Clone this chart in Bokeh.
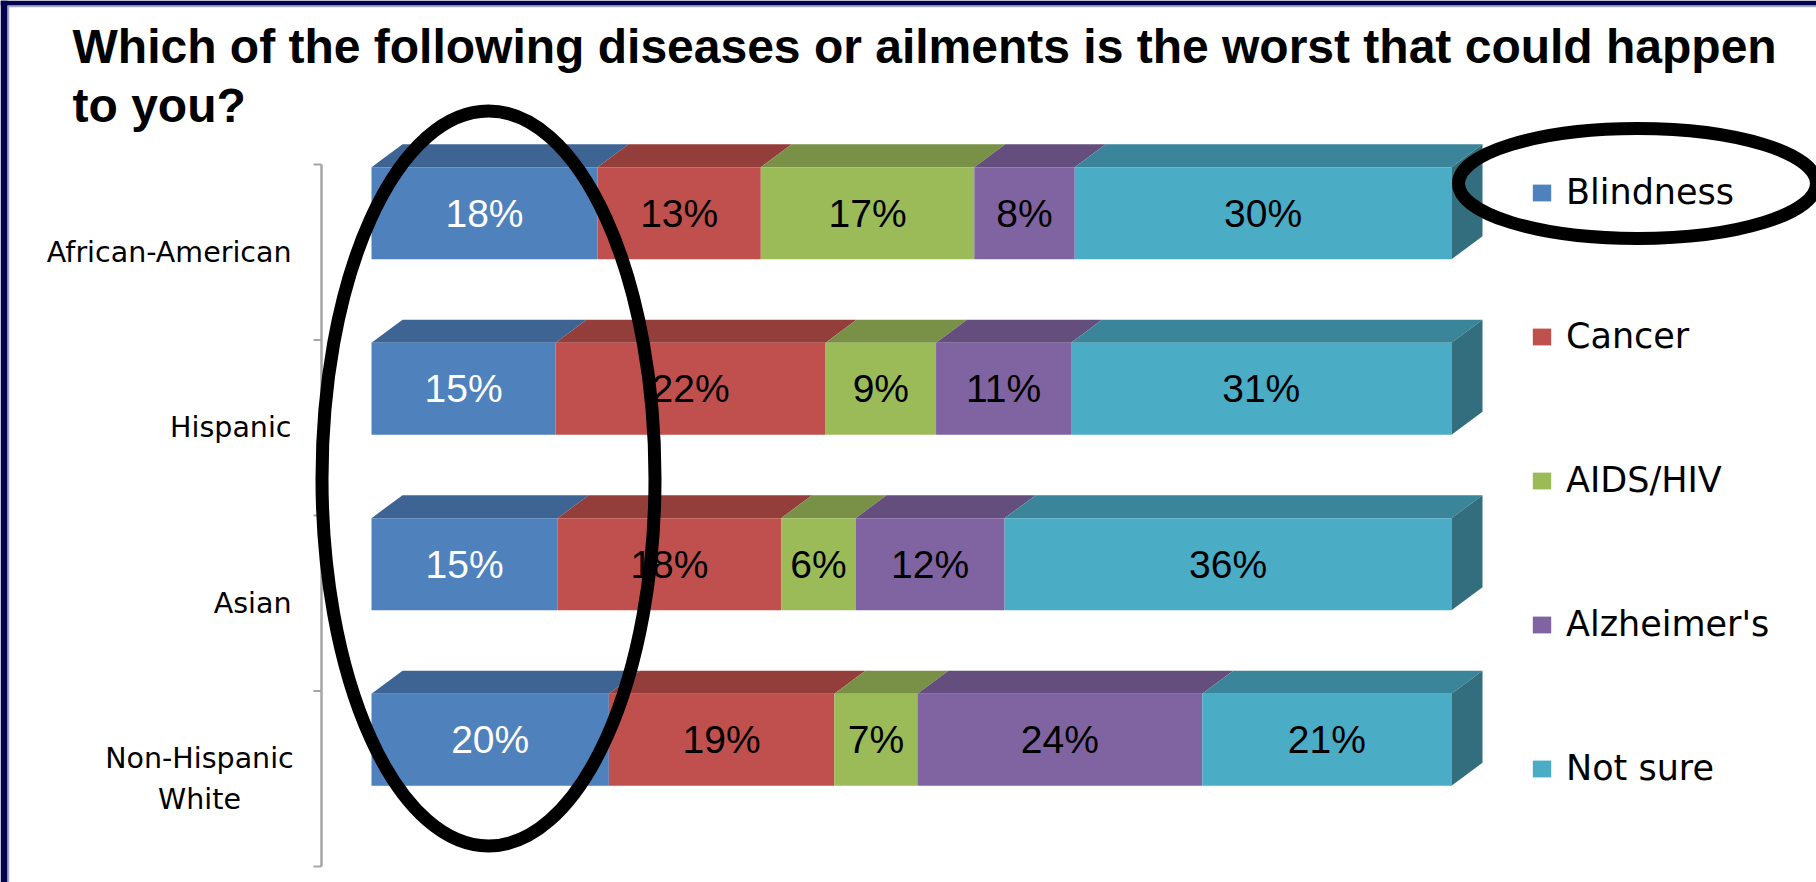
from bokeh.plotting import figure
from bokeh.models import Range1d, ColumnDataSource, Legend, LegendItem
from bokeh.embed import file_html
from bokeh.resources import INLINE
from bokeh.core.properties import value

# ---- data -------------------------------------------------------------
groups = ["African-American", "Hispanic", "Asian", "Non-Hispanic\nWhite"]
series = ["Blindness", "Cancer", "AIDS/HIV", "Alzheimer's", "Not sure"]
blindness = [18, 15, 15, 20]
cancer = [13, 22, 18, 19]
aids_hiv = [17, 9, 6, 7]
alzheimers = [8, 11, 12, 24]
not_sure = [30, 31, 36, 21]
values = [blindness, cancer, aids_hiv, alzheimers, not_sure]

title_lines = ["Which of the following diseases or ailments is the worst that could happen",
               "to you?"]

# ---- styling ----------------------------------------------------------
front_colors = ["#4F81BD", "#C0504D", "#9BBB59", "#8064A2", "#4BACC6"]
top_colors = ["#3E6493", "#943E3B", "#789146", "#634E7E", "#3A8599"]
side_color = "#336E7E"
label_colors = ["white", "black", "black", "black", "black"]
NAVY = "#03034F"

W, H = 1816, 882
X0_PX, X1_PX = 371, 1451      # screen span of a full (100 %) bar
SLOT_PX = 175.5               # height of one category slot
BASE_PX = 866                 # bottom edge of the lowest slot
XS = X1_PX - X0_PX

x_range = Range1d(-X0_PX / XS, (W - X0_PX) / XS)
y_range = Range1d((BASE_PX - H) / SLOT_PX, BASE_PX / SLOT_PX)


def sx(px):
    return (px - X0_PX) / XS


def sy(py):
    return (BASE_PX - py) / SLOT_PX


DX = 31 / XS                 # depth of the 3-D bars
DY = 23 / SLOT_PX
BAR_LO, BAR_HI = 0.46, 0.985  # front face inside a category slot

p = figure(width=W, height=H, x_range=x_range, y_range=y_range,
           output_backend="svg", toolbar_location=None,
           x_axis_location=None, y_axis_location=None, min_border=0)
p.xgrid.visible = False
p.ygrid.visible = False
p.outline_line_color = None
p.background_fill_color = "white"
p.border_fill_color = "white"

# ---- frame of the slide ----------------------------------------------
p.quad(left=[sx(0)], right=[sx(7)], bottom=[sy(H)], top=[sy(0)],
       fill_color=NAVY, line_color=None)
p.quad(left=[sx(0)], right=[sx(W)], bottom=[sy(5)], top=[sy(0)],
       fill_color=NAVY, line_color=None)
p.segment(x0=[sx(8), sx(7)], y0=[sy(H), sy(6)], x1=[sx(8), sx(W)], y1=[sy(6), sy(6)],
          line_color="#A9A9C4", line_width=1.5)

# ---- stacked 100 % bars ----------------------------------------------
n = len(groups)
slots = [n - 1 - k for k in range(n)]          # first group on top
totals = [sum(v[k] for v in values) for k in range(n)]

front_renderers = []
lab_x, lab_y, lab_t, lab_c = [], [], [], []
cum = [0.0] * n
for s, vals in enumerate(values):
    left = [cum[k] for k in range(n)]
    right = [cum[k] + vals[k] / totals[k] for k in range(n)]
    bottom = [slots[k] + BAR_LO for k in range(n)]
    top = [slots[k] + BAR_HI for k in range(n)]
    top_xs = [[left[k], right[k], right[k] + DX, left[k] + DX] for k in range(n)]
    top_ys = [[top[k], top[k], top[k] + DY, top[k] + DY] for k in range(n)]
    p.patches(xs=top_xs, ys=top_ys, fill_color=top_colors[s], line_color=None)
    r = p.quad(left=left, right=right, bottom=bottom, top=top,
               fill_color=front_colors[s], line_color=None)
    front_renderers.append(r)
    for k in range(n):
        lab_x.append((left[k] + right[k]) / 2)
        lab_y.append((bottom[k] + top[k]) / 2)
        lab_t.append(f"{vals[k]}%")
        lab_c.append(label_colors[s])
    cum = right

# right-hand side face of each bar
side_xs = [[cum[k], cum[k], cum[k] + DX, cum[k] + DX] for k in range(n)]
side_ys = [[slots[k] + BAR_LO, slots[k] + BAR_HI, slots[k] + BAR_HI + DY, slots[k] + BAR_LO + DY]
           for k in range(n)]
p.patches(xs=side_xs, ys=side_ys, fill_color=side_color, line_color=None)

labels = ColumnDataSource(dict(x=lab_x, y=lab_y, text=lab_t, color=lab_c))
p.text(x="x", y="y", text="text", text_color="color", source=labels,
       text_font=value("Liberation Sans"), text_font_size="39px",
       text_align="center", text_baseline="middle")

# ---- category axis ----------------------------------------------------
axis_x = sx(321)
bounds = list(range(n + 1))
p.segment(x0=[axis_x], y0=[bounds[0]], x1=[axis_x], y1=[bounds[-1]],
          line_color="#A6A6A6", line_width=2.5)
p.segment(x0=[sx(313)] * len(bounds), y0=bounds, x1=[axis_x] * len(bounds), y1=bounds,
          line_color="#A6A6A6", line_width=2)

cat_src = ColumnDataSource(dict(
    x=[sx(291) if "\n" not in g else sx(199) for g in groups],
    y=[sl + 0.5 for sl in slots],
    text=groups,
    align=["right" if "\n" not in g else "center" for g in groups]))
p.text(x="x", y="y", text="text", source=cat_src, text_align="align",
       text_baseline="middle", text_font=value("DejaVu Sans"),
       text_font_size="28.5px", text_color="black", text_line_height=1.25)

# ---- legend -----------------------------------------------------------
legend = Legend(items=[LegendItem(label=s, renderers=[r]) for s, r in zip(series, front_renderers)],
                location=(1530, H - 788), orientation="vertical",
                glyph_width=23, glyph_height=21, label_standoff=13,
                spacing=104, padding=0, margin=0,
                border_line_color=None, background_fill_alpha=0,
                label_text_font="DejaVu Sans", label_text_font_size="35px",
                label_text_color="black", label_height=21)
p.add_layout(legend)

# ---- hand-drawn emphasis ovals ----------------------------------------
p.ellipse(x=[sx(488), sx(1637)], y=[sy(478), sy(183)],
          width=[333 / XS, 358 / XS], height=[735 / SLOT_PX, 110 / SLOT_PX],
          fill_color=None, line_color="black", line_width=13)

# ---- title ------------------------------------------------------------
p.text(x=[sx(72), sx(72)], y=[sy(46), sy(105)], text=title_lines,
       text_font=value("Liberation Sans"), text_font_style="bold",
       text_font_size="48px", text_color="black",
       text_align="left", text_baseline="alphabetic")

open("out.html", "w").write(file_html(p, INLINE))
